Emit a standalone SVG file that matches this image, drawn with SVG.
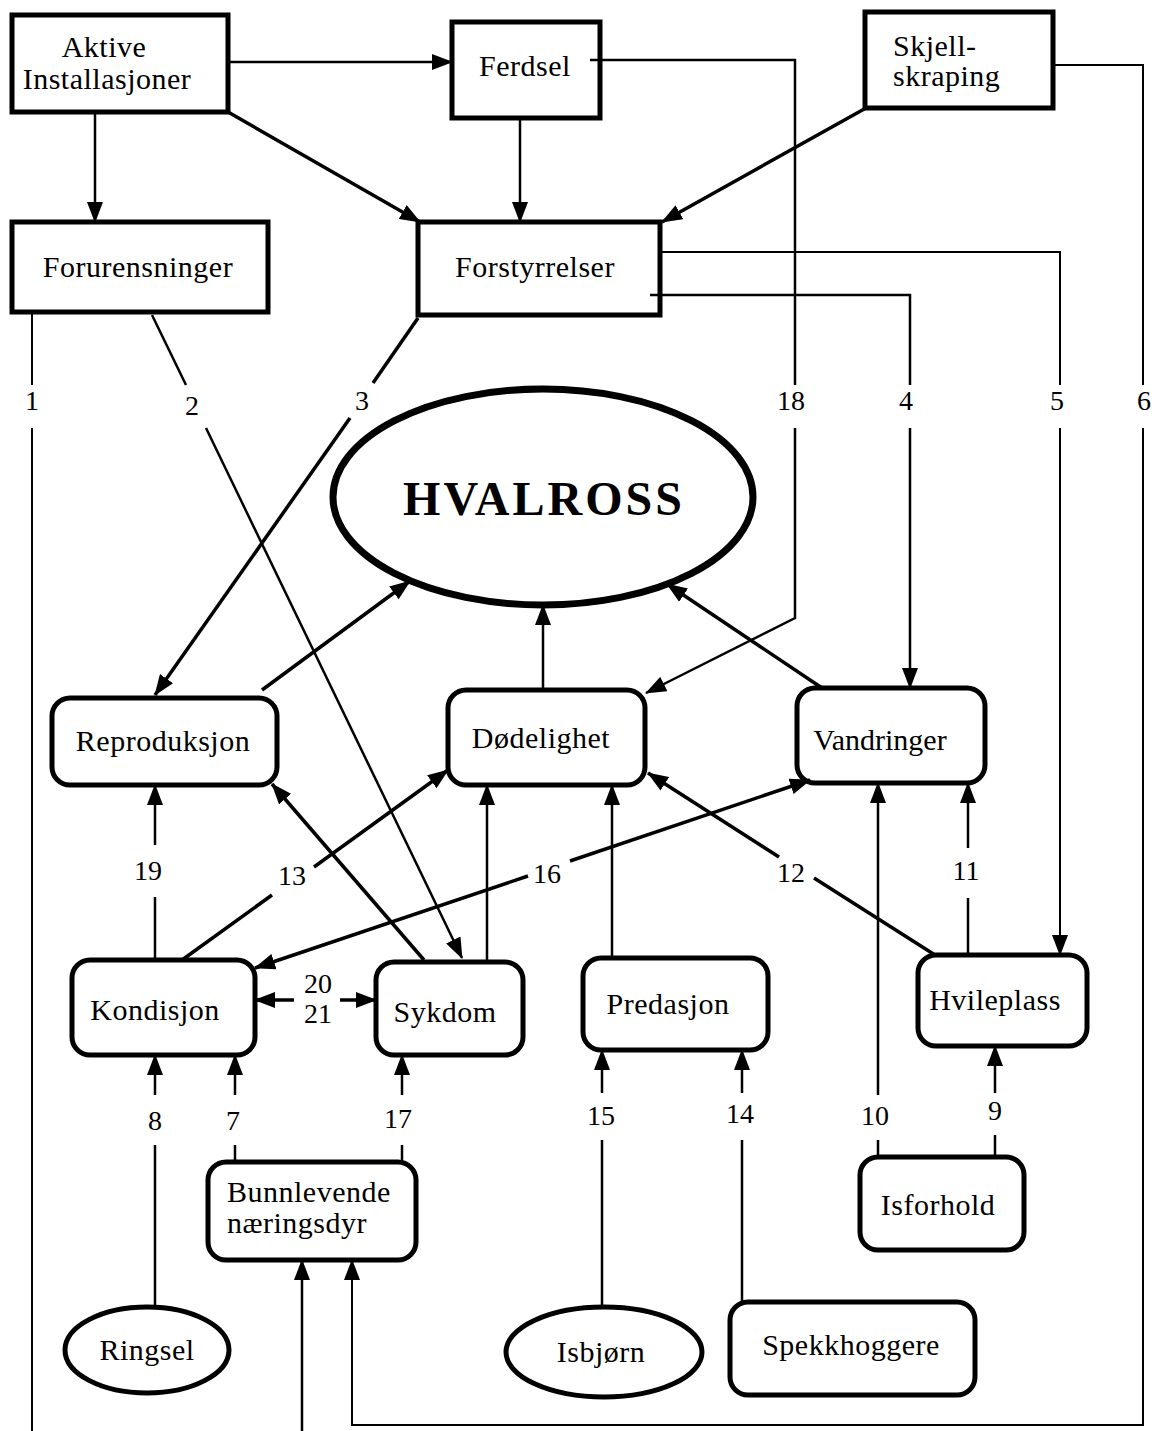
<svg xmlns="http://www.w3.org/2000/svg" width="1152" height="1431" viewBox="0 0 1152 1431">
<defs>
<marker id="ah" markerUnits="userSpaceOnUse" viewBox="0 0 21 16" markerWidth="21" markerHeight="16" refX="20" refY="8" orient="auto"><path d="M0,0 L21,8 L0,16 z" fill="#000"/></marker>
</defs>
<style>
.box{fill:#fff;stroke:#000;stroke-width:5}
.ell{fill:#fff;stroke:#000;stroke-width:5}
.t{font-family:"Liberation Serif","Times New Roman",serif;font-size:30px;letter-spacing:0.5px;fill:#000;text-anchor:middle}
.tl{text-anchor:start}
.big{font-family:"Liberation Serif","Times New Roman",serif;font-size:48px;font-weight:bold;letter-spacing:3px;fill:#000;text-anchor:middle}
.l{font-family:"Liberation Serif","Times New Roman",serif;font-size:28px;fill:#000;text-anchor:middle}
.c{fill:none;stroke:#000;stroke-width:2.5}
.k{stroke-width:3.5}
.th{stroke-width:2}
.a{marker-end:url(#ah)}
</style>
<rect width="1152" height="1431" fill="#fff"/>

<g id="aktive"><rect class="box" x="12" y="15" width="216" height="97"/><text class="t" x="104" y="57">Aktive</text><text class="t" x="107" y="89">Installasjoner</text></g>
<g id="ferdsel"><rect class="box" x="452" y="22" width="148" height="96"/><text class="t" x="525" y="76">Ferdsel</text></g>
<g id="skjell"><rect class="box" x="865" y="12" width="188" height="96"/><text class="t tl" x="893" y="56">Skjell-</text><text class="t tl" x="893" y="86">skraping</text></g>
<g id="forurensninger"><rect class="box" x="12" y="222" width="256" height="90"/><text class="t" x="138" y="277">Forurensninger</text></g>
<g id="forstyrrelser"><rect class="box" x="418" y="222" width="242" height="93"/><text class="t" x="535" y="277">Forstyrrelser</text></g>
<g id="hvalross"><ellipse cx="543" cy="497" rx="210" ry="108" fill="#fff" stroke="#000" stroke-width="7"/><text class="big" x="544" y="515">HVALROSS</text></g>
<g id="reproduksjon"><rect class="box" x="52" y="698" width="225" height="87" rx="18"/><text class="t" x="163" y="751">Reproduksjon</text></g>
<g id="dodelighet"><rect class="box" x="448" y="690" width="197" height="95" rx="18"/><text class="t" x="541" y="748">Dødelighet</text></g>
<g id="vandringer"><rect class="box" x="797" y="688" width="188" height="95" rx="18"/><text class="t" x="880" y="750" style="letter-spacing:0">Vandringer</text></g>
<g id="kondisjon"><rect class="box" x="72" y="960" width="183" height="95" rx="18"/><text class="t" x="155" y="1020">Kondisjon</text></g>
<g id="sykdom"><rect class="box" x="376" y="962" width="147" height="93" rx="18"/><text class="t" x="445" y="1022">Sykdom</text></g>
<g id="predasjon"><rect class="box" x="583" y="958" width="185" height="92" rx="18"/><text class="t" x="668" y="1014">Predasjon</text></g>
<g id="hvileplass"><rect class="box" x="918" y="955" width="169" height="91" rx="18"/><text class="t" x="995" y="1010">Hvileplass</text></g>
<g id="bunnlevende"><rect class="box" x="208" y="1162" width="208" height="98" rx="18"/><text class="t tl" x="227" y="1202">Bunnlevende</text><text class="t tl" x="227" y="1233">næringsdyr</text></g>
<g id="isforhold"><rect class="box" x="860" y="1157" width="164" height="93" rx="18"/><text class="t" x="938" y="1215">Isforhold</text></g>
<g id="ringsel"><ellipse class="ell" cx="147" cy="1350" rx="82" ry="43"/><text class="t" x="147" y="1360">Ringsel</text></g>
<g id="isbjorn"><ellipse class="ell" cx="604" cy="1352" rx="98" ry="45"/><text class="t" x="601" y="1362">Isbjørn</text></g>
<g id="spekkhoggere"><rect class="box" x="730" y="1302" width="245" height="93" rx="18"/><text class="t" x="851" y="1355">Spekkhoggere</text></g>

<g id="connectors">
<path class="c a" d="M228,62 H452"/>
<path class="c a" d="M95,112 V222"/>
<path class="c k a" d="M228,112 L420,222"/>
<path class="c a" d="M520,118 V222"/>
<path class="c k a" d="M866,108 L662,222"/>
<path class="c" d="M590,60 H795 V385"/>
<path class="c a" d="M795,428 V618 L646,693"/>
<path class="c" d="M650,295 H910 V385"/>
<path class="c a" d="M910,428 V688"/>
<path class="c th" d="M660,252 H1060 V385"/>
<path class="c th a" d="M1060,428 V955"/>
<path class="c th" d="M1053,65 H1143 V385"/>
<path class="c th a" d="M1143,428 V1425 H352 V1260"/>
<path class="c th" d="M32,312 V385 M32,428 V1431"/>
<path class="c" d="M152,315 L186,385"/>
<path class="c a" d="M206,428 L462,958"/>
<path class="c k" d="M418,318 L373,383"/>
<path class="c k a" d="M350,418 L155,695"/>
<path class="c k a" d="M262,690 L410,581"/>
<path class="c a" d="M543,690 V605"/>
<path class="c k a" d="M822,688 L667,584"/>
<path class="c" d="M155,960 V897"/>
<path class="c a" d="M155,845 V785"/>
<path class="c k" d="M182,960 L272,895"/>
<path class="c k a" d="M314,867 L448,770"/>
<path class="c k a" d="M424,960 L272,784"/>
<path class="c a" d="M487,962 V785"/>
<path class="c a" d="M612,958 V785"/>
<path class="c k" d="M935,955 L814,878"/>
<path class="c k a" d="M779,857 L648,773"/>
<path class="c k a" d="M570,861 L810,780"/>
<path class="c k a" d="M528,876 L255,968"/>
<path class="c" d="M968,955 V898"/>
<path class="c a" d="M968,848 V783"/>
<path class="c" d="M878,1157 V1140"/>
<path class="c a" d="M878,1095 V783"/>
<path class="c" d="M995,1157 V1135"/>
<path class="c a" d="M995,1093 V1046"/>
<path class="c k a" d="M294,1000 H255"/>
<path class="c k a" d="M340,1000 H376"/>
<path class="c" d="M155,1307 V1145"/>
<path class="c a" d="M155,1095 V1055"/>
<path class="c" d="M235,1162 V1145"/>
<path class="c a" d="M235,1095 V1055"/>
<path class="c" d="M402,1162 V1145"/>
<path class="c a" d="M402,1095 V1055"/>
<path class="c" d="M602,1307 V1140"/>
<path class="c a" d="M602,1093 V1050"/>
<path class="c" d="M742,1302 V1140"/>
<path class="c a" d="M742,1093 V1050"/>
<path class="c a" d="M302,1431 V1260"/>
</g>

<g id="labels">
<text class="l" x="32" y="410">1</text>
<text class="l" x="192" y="415">2</text>
<text class="l" x="362" y="410">3</text>
<text class="l" x="791" y="410">18</text>
<text class="l" x="906" y="410">4</text>
<text class="l" x="1057" y="410">5</text>
<text class="l" x="1144" y="410">6</text>
<text class="l" x="148" y="880">19</text>
<text class="l" x="292" y="885">13</text>
<text class="l" x="547" y="883">16</text>
<text class="l" x="791" y="882">12</text>
<text class="l" x="966" y="880">11</text>
<text class="l" x="318" y="993">20</text>
<text class="l" x="318" y="1023">21</text>
<text class="l" x="155" y="1130">8</text>
<text class="l" x="233" y="1130">7</text>
<text class="l" x="398" y="1128">17</text>
<text class="l" x="601" y="1125">15</text>
<text class="l" x="740" y="1123">14</text>
<text class="l" x="875" y="1125">10</text>
<text class="l" x="995" y="1120">9</text>
</g>
</svg>
